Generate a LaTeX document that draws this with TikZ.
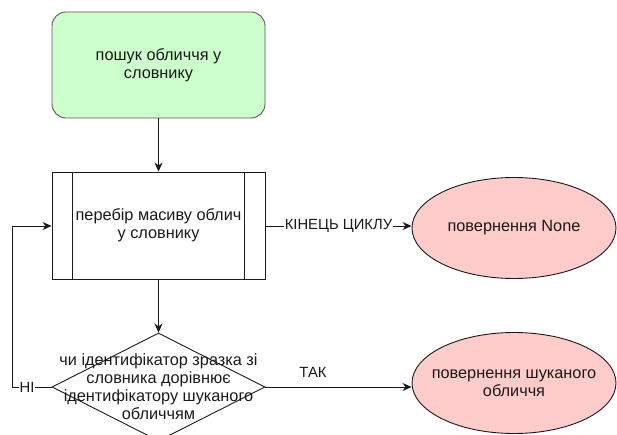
\documentclass[tikz,border=0pt]{standalone}
\usepackage{fontspec}
\setmainfont{Liberation Sans}
\usetikzlibrary{shapes.geometric,arrows.meta}
\definecolor{greenfill}{HTML}{CCFFCC}
\definecolor{pinkfill}{HTML}{FFCCCC}
\definecolor{linec}{HTML}{1A1A1A}
\begin{document}
\begin{tikzpicture}[x=1pt,y=-1pt,
  every node/.style={font=\fontsize{16.3}{18}\selectfont, text=linec},
  startbox/.style={draw=gray!70!black, fill=greenfill, rounded corners=14pt, minimum width=213pt, minimum height=106pt, align=center, line width=0.9pt},
  procbox/.style={draw=linec, fill=white, minimum width=213pt, minimum height=107pt, align=center, line width=0.9pt},
  decbox/.style={draw=linec, diamond, minimum width=213pt, minimum height=108pt, inner sep=0pt, line width=0.9pt},
  endell/.style={draw=linec, fill=pinkfill, ellipse, minimum width=204pt, minimum height=101pt, inner sep=0pt, line width=0.9pt},
  conn/.style={draw=linec, line width=0.9pt, -{Stealth[length=9pt,width=8pt]}},
  lbl/.style={fill=white, inner sep=1pt, font=\fontsize{14.8}{17}\selectfont}
]
\useasboundingbox (0,0) rectangle (617,435);
\clip (0,0) rectangle (617,435);
\node[startbox] (start) at (158.5,65) {пошук обличчя у\\словнику};
\node[procbox] (proc) at (158.5,225.5) {перебір масиву облич\\у словнику};
\draw[linec, line width=0.9pt] ([xshift=21pt]proc.north west) -- ([xshift=21pt]proc.south west)
  ([xshift=-21pt]proc.north east) -- ([xshift=-21pt]proc.south east);
\node[decbox] (dia) at (158.5,387) {};
\node[align=center] (diatext) at (dia.center) {чи ідентифікатор зразка зі\\словника дорівнює\\ідентифікатору шуканого\\обличчям};
\node[endell] (e1) at (514,228) {};
\node (e1text) at (e1.center) {повернення None};
\node[endell] (e2) at (514,383) {};
\node[align=center] (e2text) at (e2.center) {повернення шуканого\\обличчя};
\coordinate (c1) at (12,387);
\coordinate (c2) at (12,226);
\draw[conn] (start) -- (proc);
\draw[conn] (proc) -- (dia);
\draw[conn] (proc.east |- 0,226) -- node[lbl] (lend) {КІНЕЦЬ ЦИКЛУ} (e1.west |- 0,226);
\draw[conn] (dia.east) -- (e2.west |- dia.east);
\node[lbl, fill=none] (ltak) at (313,372) {ТАК};
\draw[conn] (dia.west) -- (c1) -- (c2) -- (proc.west |- c2);
\node[lbl] (lni) at (27,387) {НІ};
\end{tikzpicture}
\end{document}
